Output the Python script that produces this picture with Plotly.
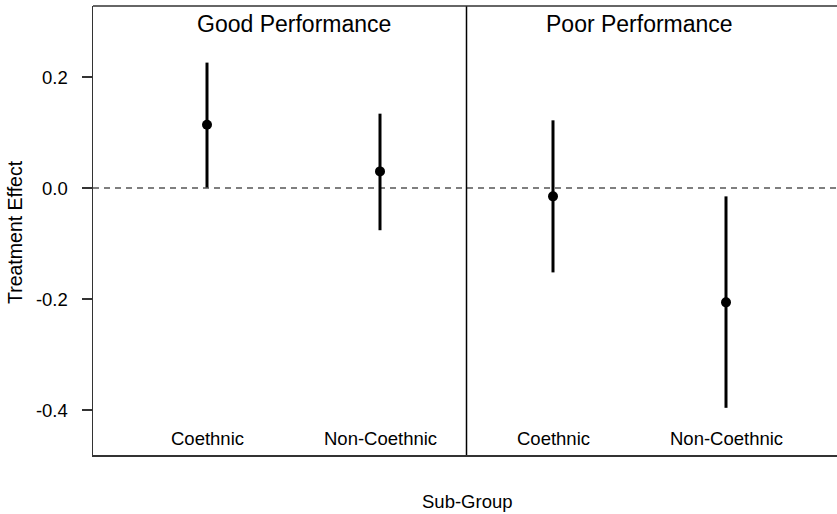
import plotly.graph_objects as go

# Data
panels = ["Good Performance", "Poor Performance"]
groups = ["Coethnic", "Non-Coethnic", "Coethnic", "Non-Coethnic"]
positions = [1, 2, 3, 4]
estimates = [0.114, 0.030, -0.015, -0.206]
upper = [0.226, 0.134, 0.122, -0.015]
lower = [0.001, -0.076, -0.152, -0.396]
y_ticks = [-0.4, -0.2, 0.0, 0.2]
y_tick_labels = ["-0.4", "-0.2", "0.0", "0.2"]

FONT = "Liberation Sans, Arial, Helvetica, sans-serif"
L, R, T, B = 93, 0, 6, 59
W, H = 837, 514
PW, PH = W - L - R, H - T - B

fig = go.Figure()

fig.add_trace(go.Scatter(
    x=positions,
    y=estimates,
    mode="markers",
    marker=dict(color="black", size=10),
    error_y=dict(
        type="data",
        symmetric=False,
        array=[u - e for u, e in zip(upper, estimates)],
        arrayminus=[e - l for e, l in zip(estimates, lower)],
        color="black",
        thickness=3,
        width=0,
    ),
    showlegend=False,
    hoverinfo="skip",
))

# zero reference line
fig.add_shape(type="line", xref="paper", yref="y", x0=0, x1=1, y0=0, y1=0,
              line=dict(color="#555555", width=1.5, dash="6px,5px"), layer="below")
# panel divider
fig.add_shape(type="line", xref="x", yref="paper", x0=2.5, x1=2.5, y0=0, y1=1,
              line=dict(color="black", width=1.5))
# top border
fig.add_shape(type="line", xref="paper", yref="paper", x0=0, x1=1, y0=1, y1=1,
              line=dict(color="#333333", width=1.5))

# panel titles
for i, title in enumerate(panels):
    fig.add_annotation(x=(positions[2 * i] + positions[2 * i + 1]) / 2, y=0.295,
                       xref="x", yref="y", text=title, showarrow=False,
                       xanchor="center", yanchor="middle",
                       font=dict(size=23, color="black", family=FONT))

# category labels
for p, g in zip(positions, groups):
    fig.add_annotation(x=p, y=-0.452, xref="x", yref="y", text=g, showarrow=False,
                       xanchor="center", yanchor="middle",
                       font=dict(size=18.5, color="black", family=FONT))

# axis titles
fig.add_annotation(xref="paper", yref="paper", x=(467 - L) / PW, y=(H - B - 501) / PH,
                   xanchor="center", yanchor="middle", text="Sub-Group", showarrow=False,
                   font=dict(size=18.5, color="black", family=FONT))
fig.add_annotation(xref="paper", yref="paper", x=(15 - L) / PW, y=(H - B - 232) / PH,
                   xanchor="center", yanchor="middle",
                   text="Treatment Effect", textangle=-90, showarrow=False,
                   font=dict(size=19.5, color="black", family=FONT))

fig.update_layout(
    width=W, height=H,
    margin=dict(l=L, r=R, t=T, b=B),
    paper_bgcolor="white", plot_bgcolor="white",
    font=dict(family=FONT, color="black"),
    xaxis=dict(range=[1 - 114 / 173, 4 + 111 / 173], showgrid=False, zeroline=False,
               showticklabels=False, ticks="", showline=True, linecolor="#333333",
               linewidth=1.5, fixedrange=True),
    yaxis=dict(range=[-0.481, 0.328], showgrid=False, zeroline=False,
               tickvals=y_ticks, ticktext=y_tick_labels, ticks="outside", ticklen=10,
               tickwidth=1.2, tickcolor="#333333", showline=True, linecolor="#333333",
               linewidth=1.5, tickfont=dict(size=18.5, color="black", family=FONT),
               ticklabelstandoff=10, fixedrange=True),
)

fig.write_html("out.html", config={"displayModeBar": False, "staticPlot": True})

# remove default page margin so the figure sits at the window's top-left corner
with open("out.html", "r", encoding="utf-8") as f:
    html = f.read()
html = html.replace("<head>", "<head><style>html,body{margin:0;padding:0;overflow:hidden;}</style>", 1)
with open("out.html", "w", encoding="utf-8") as f:
    f.write(html)
